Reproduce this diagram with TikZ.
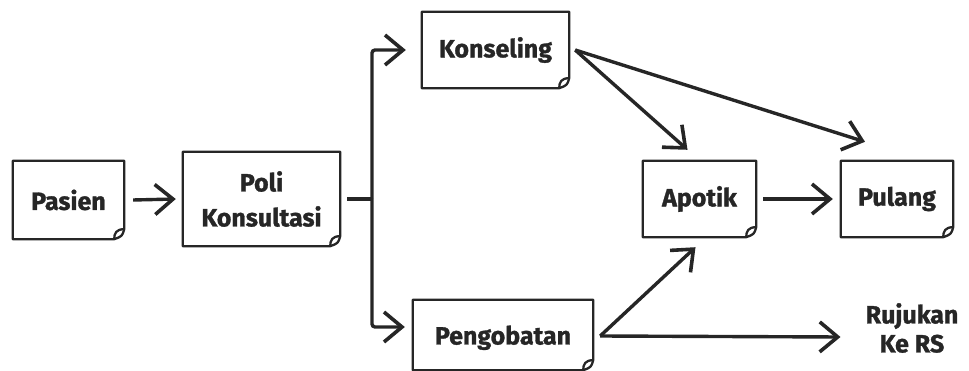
\documentclass[tikz,border=0pt]{standalone}
\usepackage{fontspec}
\setmainfont{Fira Sans}[BoldFeatures={FakeBold=1.2}]
\usetikzlibrary{arrows.meta,calc}
\begin{document}
\begin{tikzpicture}[x=1pt,y=-1pt,
  box/.style={inner sep=0pt, align=center, font=\bfseries\fontsize{25}{35}\selectfont, text=black!85},
  lbl/.style={inner sep=0pt, align=center, font=\bfseries\fontsize{25}{29}\selectfont, text=black!85},
  boxline/.style={line width=2.3pt, black!85, line join=round},
  tip/.tip={Straight Barb[length=18pt,width=30pt,line width=3.6pt]},
  conn/.style={line width=3.4pt, black!85, rounded corners=3pt, -tip},
  plainconn/.style={line width=3.4pt, black!85}]
\useasboundingbox (0,0) rectangle (969,371);
\node[box, minimum width=111pt, minimum height=78pt] (pasien) at (68.5,200) {Pasien};
\node[box, minimum width=157pt, minimum height=94pt] (poli) at (261.5,199) {Poli\\Konsultasi};
\node[box, minimum width=147pt, minimum height=76pt] (kons) at (495.5,50) {Konseling};
\node[box, minimum width=113pt, minimum height=76pt] (apotik) at (699.5,199) {Apotik};
\node[box, minimum width=112pt, minimum height=76pt] (pulang) at (897,199) {Pulang};
\node[box, minimum width=180pt, minimum height=70pt, text depth=0pt] (peng) at (503,335) {Pengobatan};
\node[lbl] (rujuk) at (912,328) {Rujukan\\Ke RS};
\foreach \n in {pasien,poli,kons,apotik,pulang,peng}{
  \draw[boxline] (\n.north west) -- (\n.north east) -- ($(\n.south east)+(0,-10)$)
    .. controls ($(\n.south east)+(-2,-3)$) .. ($(\n.south east)+(-10,0)$) -- (\n.south west) -- cycle;
  \draw[boxline] ($(\n.south east)+(0,-10)$) .. controls ($(\n.south east)+(-8,-10)$) and ($(\n.south east)+(-10,-6)$) .. ($(\n.south east)+(-10,0)$);
}
\coordinate (br) at (372,199);
\draw[conn] (pasien.east) ++(9,0) -- ($(poli.west)+(-7,0)$);
\draw[plainconn] ($(poli.east)+(7,0)$) -- (br);
\draw[conn] (br) |- ($(kons.west)+(-16,0)$);
\draw[conn] (br) |- ($(peng.west)+(-8,-8)$);
\draw[conn] ($(kons.east)+(6,0)$) -- ($(apotik.north)+(-12,-11)$);
\draw[conn] ($(kons.east)+(6,0)$) -- ($(pulang.north)+(-32,-19)$);
\draw[conn] ($(apotik.east)+(7,0)$) -- ($(pulang.west)+(-8,0)$);
\draw[conn] ($(peng.east)+(7,1)$) -- ($(apotik.south)+(-4,10)$);
\draw[conn] ($(peng.east)+(7,1)$) -- ($(rujuk.west)+(-25,9)$);
\end{tikzpicture}
\end{document}
